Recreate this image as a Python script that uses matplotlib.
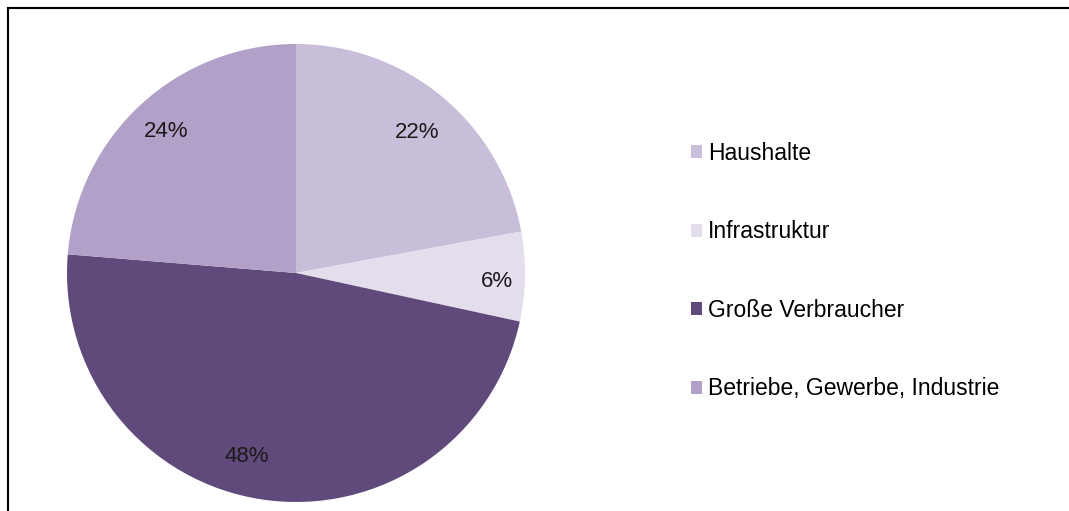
import numpy as np
import matplotlib.pyplot as plt
from matplotlib.patches import Patch
from matplotlib.lines import Line2D

plt.rcParams['font.family'] = ['Liberation Sans', 'DejaVu Sans']

labels = ["Haushalte", "Infrastruktur", "Große Verbraucher", "Betriebe, Gewerbe, Industrie"]
shares = [22.1, 6.3, 47.9, 23.7]
colors = ["#C9BEDA", "#E4DEEC", "#604A7B", "#B1A0C7"]
# label placement tweaks (radius fraction, angle shift in degrees)
label_radius = [0.81, 0.88, 0.83, 0.84]
label_shift = [-1, -1.5, -6.5, 0]

W, H = 1069, 511
fig = plt.figure(figsize=(W / 100, H / 100), dpi=100)

# pie centre (296, 273) px, radius 229 px
cx, cy, r = 296, 273, 229
ax = fig.add_axes([(cx - r) / W, (H - cy - r) / H, 2 * r / W, 2 * r / H])
wedges, texts, autotexts = ax.pie(
    shares, colors=colors, startangle=90, counterclock=False,
    autopct='%.0f%%', pctdistance=0.83,
    wedgeprops=dict(linewidth=0),
    textprops=dict(fontsize=16, color='#1a1a1a'))
for w, t, rr, sh in zip(wedges, autotexts, label_radius, label_shift):
    ang = np.deg2rad((w.theta1 + w.theta2) / 2 + sh)
    t.set_position((rr * np.cos(ang), rr * np.sin(ang)))
ax.set_xlim(-1, 1)
ax.set_ylim(-1, 1)
ax.set_aspect('equal')
ax.axis('off')

handles = [Patch(facecolor=c, edgecolor='none') for c in colors]
fig.legend(handles, labels, loc='upper left', bbox_to_anchor=(691 / W, 1 - 142 / H),
           frameon=False, fontsize=16.5, handlelength=0.5, handleheight=0.5,
           handletextpad=0.25, labelspacing=2.42, borderpad=0, borderaxespad=0)

# frame lines (top and left only)
fig.add_artist(Line2D([7.5 / W, 1], [1 - 8 / H, 1 - 8 / H], color='black', lw=1.5,
                      transform=fig.transFigure))
fig.add_artist(Line2D([7.5 / W, 7.5 / W], [0, 1 - 8 / H], color='black', lw=1.5,
                      transform=fig.transFigure))

fig.savefig("out.png", dpi=100)
